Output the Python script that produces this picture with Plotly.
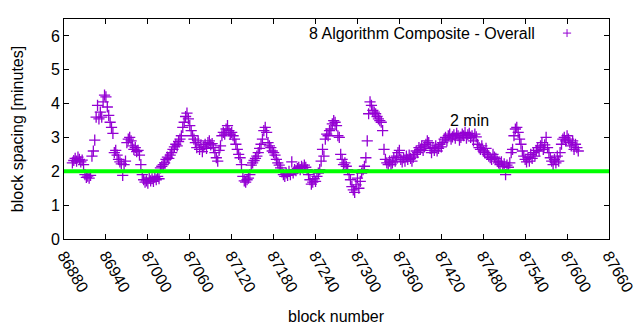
import plotly.graph_objects as go

# ---- data ----
first_block = 86892
block_step = 2
spacing = [
    2.25, 2.32, 2.38, 2.30, 2.42, 2.35, 2.28, 2.33, 2.20,
    1.90, 1.82, 1.86, 1.80, 1.88,
    2.45, 2.60, 2.92,
    3.60, 3.95, 3.55, 3.75, 3.60, 4.05, 4.25, 4.20, 3.90, 3.65, 3.45, 3.30, 3.12,
    2.55, 2.62, 2.48, 2.35,
    2.28, 2.22, 1.88, 2.20, 2.30,
    2.85, 2.95, 3.00, 2.90,
    2.75, 2.65, 2.70, 2.58, 2.62, 2.48, 2.20,
    1.90, 1.75, 1.68, 1.72, 1.65, 1.80, 1.72, 1.78, 1.70, 1.82, 1.75, 1.85, 1.78,
    2.10, 2.15, 2.20, 2.25,
    2.35, 2.42, 2.38, 2.48, 2.55,
    2.65, 2.72, 2.80, 2.75, 2.88, 2.95, 3.05,
    3.30, 3.45, 3.62, 3.72,
    3.55, 3.35, 3.20, 3.05, 2.95,
    2.85, 2.70, 2.90, 2.65, 2.78, 2.58, 2.72, 2.80, 2.68, 2.85, 2.90, 2.78, 2.82, 2.70,
    2.55, 2.40, 2.30, 2.62, 2.75,
    3.05, 3.15, 3.10, 3.25, 3.35, 3.20, 3.10, 3.15, 3.05, 2.95,
    2.80, 2.65, 2.50, 2.40, 2.20,
    1.85, 1.72, 1.68, 1.75, 1.80, 1.90,
    2.18, 2.25, 2.32, 2.38, 2.45, 2.55, 2.68,
    2.80, 2.95, 3.20, 3.30, 3.15,
    2.85, 2.75, 2.70, 2.60, 2.55, 2.48, 2.35,
    2.25, 2.18, 2.10, 1.98, 1.90,
    1.85, 1.95, 1.88, 2.00, 1.90, 2.28, 1.95, 2.05, 2.02,
    2.08, 2.12, 2.05, 2.15, 2.10, 2.18, 2.12, 2.05,
    1.90, 1.75, 1.62, 1.68, 1.78, 1.70, 1.85, 1.95, 2.05,
    2.30, 2.65, 2.45, 2.95, 3.10, 3.05, 3.20, 3.25, 3.40,
    3.50, 3.45, 3.35, 3.05, 3.00,
    2.50, 2.35, 2.20, 2.25, 2.15, 2.05,
    1.90, 1.75, 1.55, 1.45, 1.38, 1.60, 1.80, 1.50, 1.70, 1.95,
    2.05, 2.15, 2.40, 2.90, 3.70,
    4.05, 3.95, 3.80, 3.75,
    3.70, 3.62, 3.55, 3.50, 3.45, 3.20,
    2.65, 2.35, 2.25, 2.20,
    2.30, 2.20, 2.25, 2.40, 2.30, 2.45, 2.55, 2.62, 2.35, 2.28,
    2.40, 2.30, 2.45, 2.35, 2.48, 2.38, 2.30, 2.42, 2.50,
    2.60, 2.55, 2.70, 2.65, 2.75, 2.62, 2.72, 2.80, 2.90, 2.85, 2.68,
    2.55, 2.70, 2.62, 2.75, 2.60, 2.68, 2.80, 2.72, 2.85,
    2.95, 3.00, 2.90, 3.05, 3.10, 2.95, 3.02, 3.08, 2.98, 3.12, 3.05, 2.92, 3.00, 3.10,
    3.05, 3.15, 2.98, 3.08, 3.12, 3.00, 3.05, 2.90, 3.10, 3.02,
    2.80, 2.70, 2.65, 2.75, 2.60, 2.55, 2.68, 2.50,
    2.45, 2.40, 2.35, 2.50, 2.42, 2.38, 2.30,
    2.25, 2.20, 2.28, 2.15, 2.22, 1.90, 2.18, 2.12, 2.25,
    2.55, 2.65, 3.05,
    3.25, 3.30, 3.15, 2.95, 2.80,
    2.60, 2.45, 2.35, 2.28, 2.40, 2.30, 2.50, 2.38, 2.55, 2.45, 2.62,
    2.70, 2.60, 2.75, 2.85, 2.65, 2.78, 3.00, 2.70, 2.55,
    2.40, 2.30, 2.20, 2.35, 2.25, 2.45, 2.30, 2.55,
    2.80, 2.95, 3.00, 2.90, 3.05, 2.95, 2.85,
    2.75, 2.90, 2.65, 2.80, 2.70, 2.60,
]
blocks = [first_block + block_step * i for i in range(len(spacing))]

target_minutes = 2
x_range = [86880, 87660]
x_ticks = list(range(86880, 87661, 60))
y_ticks = [0, 1, 2, 3, 4, 5, 6]
series_name = "8 Algorithm Composite - Overall"
target_label = "2 min"
label_pos = (87430, 3.5)
x_title = "block number"
y_title = "block spacing [minutes]"

FONT = "Liberation Sans, Arial, sans-serif"
FS = 16
PURPLE = "#9400D3"

fig = go.Figure()
fig.add_trace(go.Scatter(
    x=blocks, y=spacing, mode="markers", name=series_name,
    marker=dict(symbol="cross-thin", size=8, color=PURPLE,
                line=dict(color=PURPLE, width=1.3)),
    showlegend=False,
))

# 2-minute target line (above points)
fig.add_shape(type="line", xref="paper", x0=0, x1=1, yref="y",
              y0=target_minutes, y1=target_minutes,
              line=dict(color="#00FF00", width=4), layer="above")

fig.add_annotation(x=label_pos[0], y=label_pos[1], text=target_label,
                   showarrow=False, xanchor="left", yanchor="middle",
                   font=dict(family=FONT, size=FS, color="black"))

# key (gnuplot style: text then symbol)
fig.add_annotation(xref="paper", yref="paper", x=0.868, y=0.936,
                   text=series_name, showarrow=False, xanchor="right",
                   yanchor="middle", font=dict(family=FONT, size=FS, color="black"))
kx, ky, dx, dy = 0.923, 0.936, 0.0075, 0.018
fig.add_shape(type="line", xref="paper", yref="paper", x0=kx - dx, x1=kx + dx,
              y0=ky, y1=ky, line=dict(color=PURPLE, width=1))
fig.add_shape(type="line", xref="paper", yref="paper", x0=kx, x1=kx,
              y0=ky - dy, y1=ky + dy, line=dict(color=PURPLE, width=1))

# axis titles as annotations for exact placement
fig.add_annotation(xref="paper", yref="paper", x=-0.086, y=0.5, text=y_title,
                   textangle=-90, showarrow=False, xanchor="center", yanchor="middle",
                   font=dict(family=FONT, size=FS, color="black"))
fig.add_annotation(xref="paper", yref="paper", x=0.5, y=-0.352, text=x_title,
                   showarrow=False, xanchor="center", yanchor="middle",
                   font=dict(family=FONT, size=FS, color="black"))

axis_common = dict(showline=True, linecolor="black", linewidth=1, mirror="allticks",
                   ticks="inside", ticklen=5, tickcolor="black", tickwidth=1,
                   showgrid=False, zeroline=False, automargin=False,
                   tickfont=dict(family=FONT, size=FS, color="black"))

fig.update_xaxes(range=x_range, tickvals=x_ticks, ticktext=[str(t) for t in x_ticks],
                 tickangle=60, **axis_common)
fig.update_yaxes(range=[0, 6.5], tickvals=y_ticks, **axis_common)

fig.update_layout(width=640, height=330, margin=dict(l=64, r=31, t=19, b=91),
                  plot_bgcolor="white", paper_bgcolor="white",
                  font=dict(family=FONT, size=FS, color="black"))

fig.write_html("out.html")
